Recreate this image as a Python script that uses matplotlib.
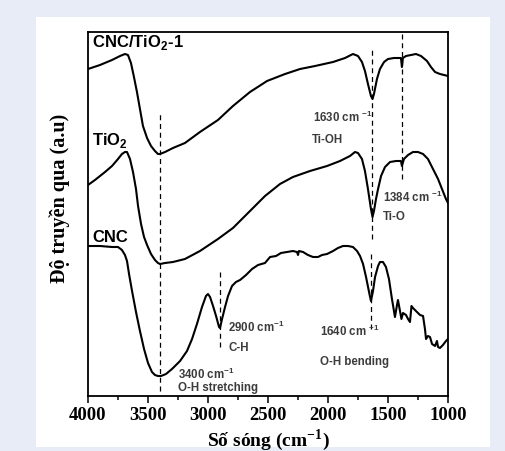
import matplotlib
matplotlib.use("Agg")
import matplotlib.pyplot as plt
from matplotlib.ticker import MultipleLocator
from matplotlib.patches import Rectangle

plt.rcParams['mathtext.fontset'] = 'custom'
plt.rcParams['mathtext.rm'] = 'Liberation Serif:bold'
plt.rcParams['mathtext.bf'] = 'Liberation Serif:bold'
plt.rcParams['mathtext.sf'] = 'Liberation Sans:bold'

# FTIR spectra (wavenumber in cm^-1, transmittance in arbitrary offset units)
wn_composite = [4000, 3900, 3800, 3733, 3692, 3667, 3642, 3617, 3592, 3567, 3542, 3508,
                3475, 3442, 3417, 3400, 3358, 3292, 3192, 3067, 2917, 2792, 2650, 2508,
                2358, 2233, 2108, 1958, 1858, 1792, 1750, 1717, 1692, 1667, 1642, 1629,
                1617, 1592, 1567, 1533, 1500, 1450, 1400, 1392, 1384, 1376, 1350, 1308,
                1267, 1225, 1175, 1142, 1108, 1067, 1033, 1000]
t_composite = [327, 331, 336, 340, 342, 341, 333, 319, 304, 287, 270, 258,
               250, 245, 242, 242, 244, 248, 253, 264, 276, 290, 304, 315,
               322, 327, 330, 334, 338, 342, 340, 334, 325, 312, 300, 297,
               302, 317, 327, 334, 337, 338, 338, 338, 329, 338, 340, 341,
               342, 340, 335, 329, 324, 322, 321, 320]

wn_tio2 = [4000, 3942, 3858, 3800, 3750, 3717, 3692, 3675, 3650, 3625, 3600, 3583,
           3558, 3533, 3508, 3475, 3442, 3417, 3400, 3358, 3292, 3192, 3067, 2917,
           2792, 2650, 2525, 2400, 2292, 2150, 2008, 1900, 1817, 1775, 1750, 1717,
           1692, 1667, 1642, 1629, 1617, 1600, 1583, 1558, 1525, 1483, 1433, 1392,
           1384, 1367, 1333, 1292, 1250, 1208, 1167, 1125, 1083, 1050, 1017, 1000]
t_tio2 = [211, 216, 224, 230, 237, 242, 244, 244, 237, 224, 207, 190,
          172, 159, 151, 142, 136, 133, 132, 133, 134, 137, 145, 157,
          168, 185, 200, 212, 219, 225, 230, 235, 240, 244, 243, 237,
          225, 207, 187, 179, 185, 197, 207, 220, 229, 234, 235, 235,
          230, 237, 241, 244, 244, 242, 237, 227, 217, 207, 197, 193]

wn_cnc = [4000, 3900, 3800, 3750, 3717, 3692, 3675, 3658, 3633, 3600, 3567, 3533,
          3500, 3467, 3442, 3417, 3392, 3350, 3300, 3233, 3175, 3133, 3092, 3050,
          3017, 3000, 2983, 2958, 2933, 2908, 2900, 2883, 2858, 2833, 2800, 2767,
          2733, 2683, 2633, 2583, 2525, 2483, 2433, 2392, 2342, 2292, 2258, 2250,
          2242, 2208, 2167, 2125, 2083, 2050, 2008, 1958, 1917, 1875, 1833, 1792,
          1758, 1733, 1708, 1683, 1658, 1642, 1625, 1608, 1583, 1567, 1542, 1517,
          1492, 1467, 1442, 1425, 1417, 1400, 1388, 1375, 1350, 1333, 1317, 1304,
          1292, 1267, 1233, 1208, 1192, 1183, 1167, 1150, 1133, 1108, 1092, 1083,
          1067, 1042, 1017, 1000]
t_cnc = [150, 150, 149, 149, 146, 141, 135, 122, 105, 84, 65, 47,
         33, 24, 21, 20, 20, 22, 27, 35, 45, 57, 72, 89,
         100, 102, 99, 90, 80, 69, 68, 77, 89, 100, 110, 114,
         116, 121, 127, 131, 133, 139, 140, 143, 144, 145, 144, 141,
         145, 144, 141, 139, 139, 141, 142, 145, 148, 150, 150, 149,
         145, 140, 132, 119, 104, 95, 105, 119, 130, 134, 134, 129,
         117, 97, 79, 91, 96, 85, 77, 83, 81, 77, 74, 90,
         88, 85, 81, 80, 67, 57, 60, 59, 52, 50, 55, 49,
         48, 51, 55, 57]

series_names = [r"CNC/TiO$_\mathsf{2}$-1", r"TiO$_\mathsf{2}$", "CNC"]
series_label_y = [354, 257, 159]

# Marked bands: (wavenumber, y_start, y_end)
band_wn = [3400, 2900, 1630, 1384, 1640]
band_y0 = [5, 49, 157, 217, 67]
band_y1 = [284, 124, 347, 362, 144]

# Band annotations: (text, x, y)
note_text = [r"1630 cm $^{\mathsf{-1}}$", "Ti-OH",
             r"1384 cm $^{\mathsf{-1}}$", "Ti-O",
             r"2900 cm$^{\mathsf{-1}}$", "C-H",
             r"1640 cm $^{\mathsf{-1}}$", "O-H bending",
             r"3400 cm$^{\mathsf{-1}}$", "O-H stretching"]
note_x = [2125, 2133, 1542, 1542, 2833, 2833, 2067, 2067, 3250, 3250]
note_y = [280, 257, 200, 180, 70, 49, 66, 35, 23, 9]

x_ticks = [4000, 3500, 3000, 2500, 2000, 1500, 1000]

fig = plt.figure(figsize=(5.05, 4.52), dpi=100)
fig.patch.set_facecolor('#e8ecf7')
fig.patches.append(Rectangle((36 / 505, 4 / 452), 454 / 505, 430 / 452,
                             transform=fig.transFigure, facecolor='white',
                             edgecolor='none', zorder=-10))

ax = fig.add_axes([88 / 505, 55 / 452, 360 / 505, 364 / 452])
ax.set_facecolor('white')

for wn, t in [(wn_composite, t_composite), (wn_tio2, t_tio2), (wn_cnc, t_cnc)]:
    ax.plot(wn, t, color='black', lw=1.5, solid_joinstyle='round')

for w, y0, y1 in zip(band_wn, band_y0, band_y1):
    ax.plot([w, w], [y0, y1], color='black', lw=0.9, ls=(0, (4, 3)))

for name, y in zip(series_names, series_label_y):
    ax.text(3967, y, name, fontsize=12, fontweight='bold', family='Liberation Sans',
            ha='left', va='center', color='black')

for s, x, y in zip(note_text, note_x, note_y):
    ax.text(x, y, s, fontsize=8.3, fontweight='bold', family='Liberation Sans',
            ha='left', va='center', color='#3c3c3c')

ax.set_xlim(4000, 1000)
ax.set_ylim(0, 364)
ax.set_xticks(x_ticks)
ax.xaxis.set_minor_locator(MultipleLocator(250))
ax.set_yticks([])
ax.tick_params(axis='x', which='major', direction='out', length=5, width=1.1, pad=2)
ax.tick_params(axis='x', which='minor', direction='out', length=3, width=1.1)
for lbl in ax.get_xticklabels():
    lbl.set_family('Liberation Serif')
    lbl.set_fontweight('bold')
    lbl.set_fontsize(13.5)
for sp in ax.spines.values():
    sp.set_linewidth(1.3)

ax.set_xlabel(r"Số sóng (cm$^{-1}$)", family='Liberation Serif', fontweight='bold',
              fontsize=14, va='center')
ax.xaxis.set_label_coords(0.5, -43 / 364)
ax.set_ylabel("Độ truyền qua (a.u)", family='Liberation Serif', fontweight='bold',
              fontsize=14.5, va='center', ha='center')
ax.yaxis.set_label_coords(-28 / 360, 199 / 364)

fig.savefig('out.png', dpi=100)
